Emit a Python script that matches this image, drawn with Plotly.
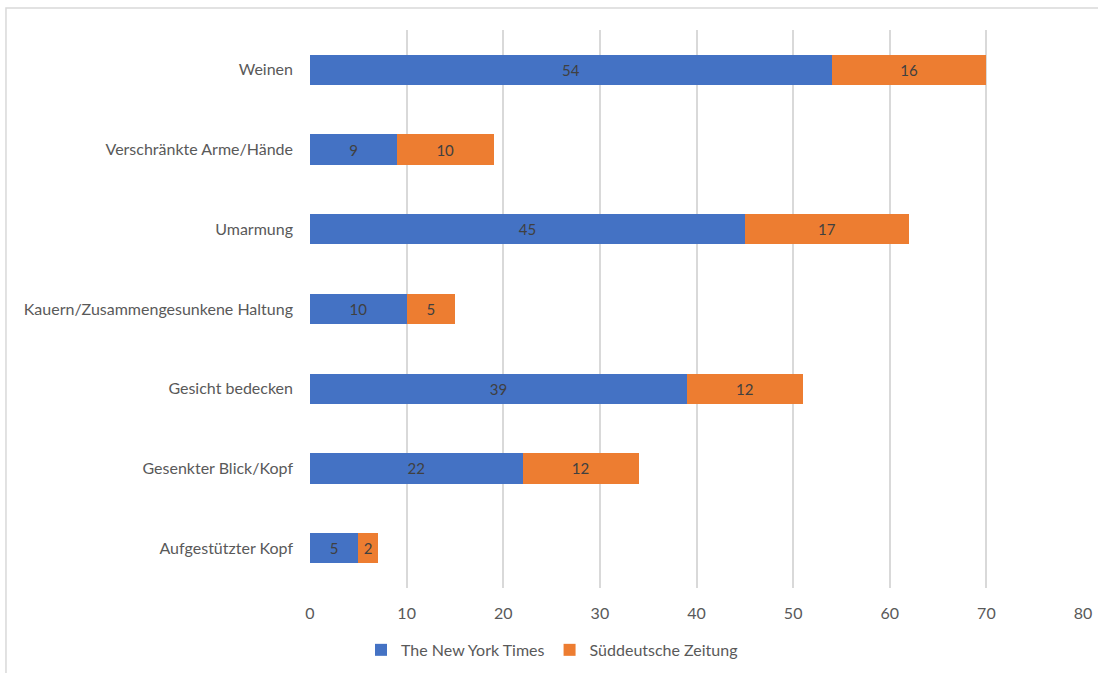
import plotly.graph_objects as go

# Categories listed bottom-to-top (Plotly draws the first category at the bottom)
categories = [
    "Aufgestützter Kopf",
    "Gesenkter Blick/Kopf",
    "Gesicht bedecken",
    "Kauern/Zusammengesunkene Haltung",
    "Umarmung",
    "Verschränkte Arme/Hände",
    "Weinen",
]
nyt_values = [5, 22, 39, 10, 45, 9, 54]
sz_values = [2, 12, 12, 5, 17, 10, 16]
x_ticks = [0, 10, 20, 30, 40, 50, 60, 70, 80]

FONT = "Lato, 'Open Sans', sans-serif"
GRAY = "#595959"

fig = go.Figure()
fig.add_trace(go.Bar(
    y=categories, x=nyt_values, orientation="h",
    name="The New York Times",
    marker=dict(color="#4472C4", line=dict(width=0)),
    text=nyt_values, textposition="inside", insidetextanchor="middle",
    textfont=dict(color="#404040", size=15, family=FONT),
))
fig.add_trace(go.Bar(
    y=categories, x=sz_values, orientation="h",
    name="Süddeutsche Zeitung",
    marker=dict(color="#ED7D31", line=dict(width=0)),
    text=sz_values, textposition="inside", insidetextanchor="middle",
    textfont=dict(color="#404040", size=15, family=FONT),
))

fig.update_layout(
    width=1098, height=673,
    barmode="stack", bargap=0.62,
    paper_bgcolor="white", plot_bgcolor="white",
    margin=dict(l=310, r=15, t=30, b=85, autoexpand=False),
    font=dict(family=FONT, color=GRAY, size=16),
    legend=dict(
        orientation="h", x=0.066, xanchor="left", y=-0.111, yanchor="middle",
        font=dict(size=16, color=GRAY, family=FONT),
        itemwidth=30, traceorder="normal",
    ),
    showlegend=True,
    xaxis=dict(
        range=[0, 80], tickvals=x_ticks, showgrid=True,
        gridcolor="#d9d9d9", gridwidth=1.5, zeroline=False,
        showline=False, ticks="", tickfont=dict(size=16, color=GRAY),
        ticklabelstandoff=14,
    ),
    yaxis=dict(
        showgrid=False, showline=False, ticks="", zeroline=False,
        tickfont=dict(size=16, color=GRAY), ticklabelstandoff=16,
    ),
    shapes=[dict(
        type="rect", xref="paper", yref="paper",
        x0=-0.3933, x1=1.05, y0=-0.3, y1=1.0394,
        line=dict(color="#d9d9d9", width=1.5), layer="below",
    )],
)

fig.write_html("out.html")
